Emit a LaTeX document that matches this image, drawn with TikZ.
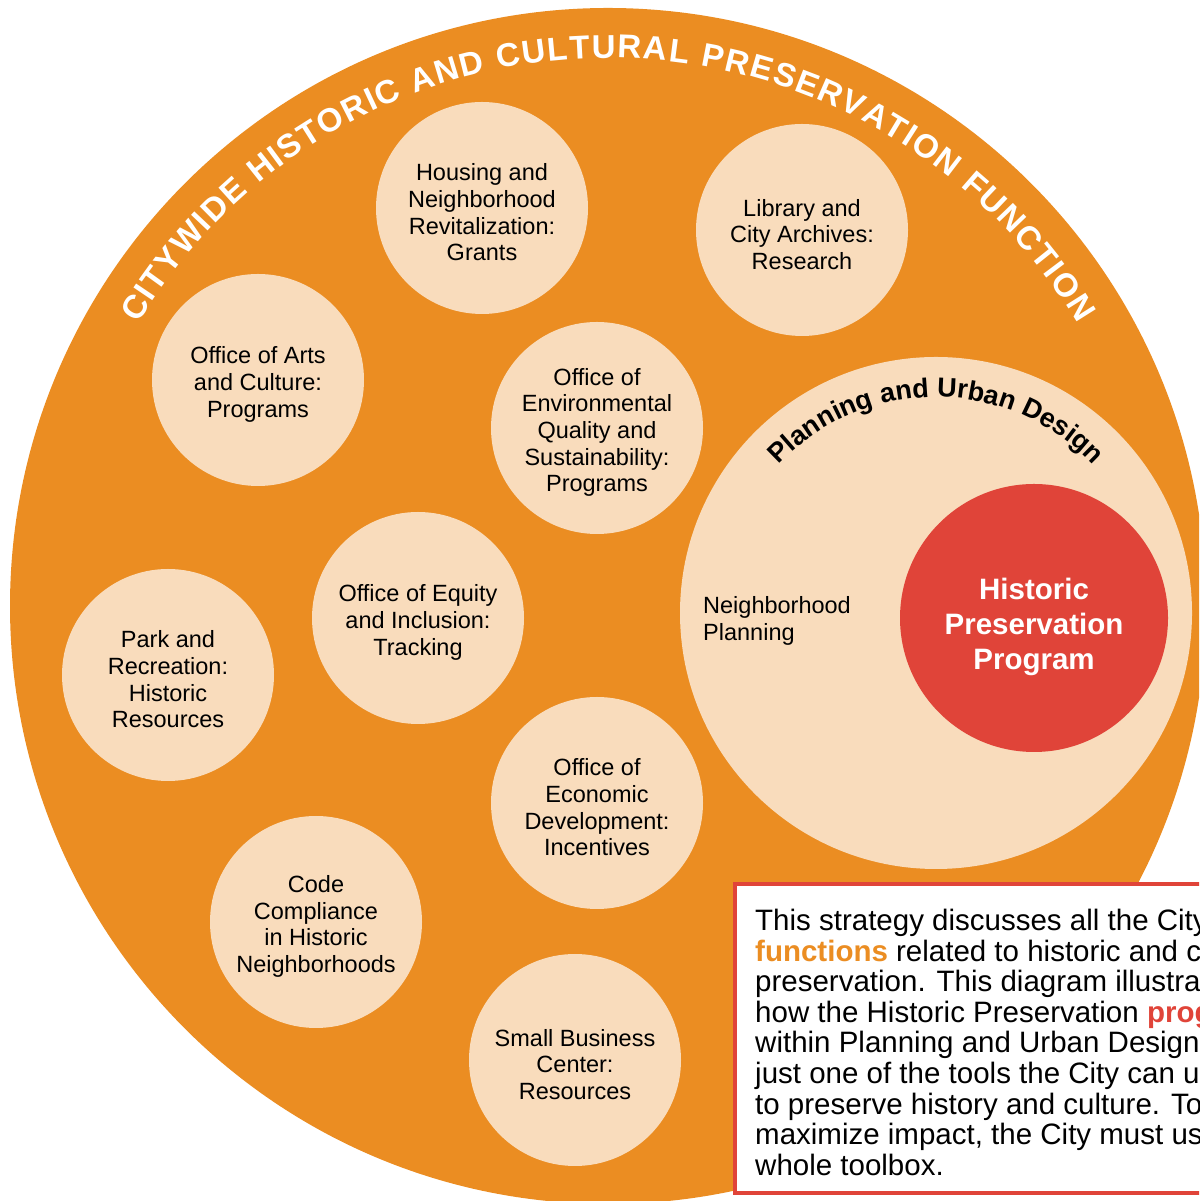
\documentclass[tikz,border=0pt]{standalone}
\usepackage{fontspec}
\setmainfont{Liberation Sans}
\usepackage{tikz}
\usetikzlibrary{decorations.text}
\definecolor{fnorange}{RGB}{235,141,34}
\definecolor{fnpeach}{RGB}{249,220,188}
\definecolor{fnred}{RGB}{224,68,57}
\tikzset{unit/.style={circle, fill=fnpeach, minimum size=212pt, inner sep=0pt,
  label={[align=center, font=\fontsize{23.5}{26.7}\selectfont, yshift=-4.5pt]center:{#1}}}}
\tikzset{arctext/.style={decorate, decoration={text along path, #1}}}

\begin{document}
\begin{tikzpicture}[x=1pt, y=1pt]
\useasboundingbox (0,0) rectangle (1199,1201);
\clip (0,0) rectangle (1199,1201);

\node[circle, fill=fnorange, minimum size=1196pt, inner sep=0pt] (fn) at (608,595) {};
\path[arctext={text align=fit to path, text color=white,
  text={|\fontsize{33}{33}\selectfont\bfseries|CITYWIDE HISTORIC AND CULTURAL PRESERVATION FUNCTION}}]
  ([shift={(149:548)}]fn.center) arc[start angle=149, end angle=31, radius=548];

\node[unit={Housing and\\Neighborhood\\Revitalization:\\Grants}] (housing) at (482,993) {};
\node[unit={Library and\\City Archives:\\Research}] (library) at (802,971) {};
\node[unit={Office of Arts\\and Culture:\\Programs}] (arts) at (258,821) {};
\node[unit={Office of\\Environmental\\Quality and\\Sustainability:\\Programs}] (environ) at (597,773) {};
\node[unit={Office of Equity\\and Inclusion:\\Tracking}] (equity) at (418,583) {};
\node[unit={Park and\\Recreation:\\Historic\\Resources}] (park) at (168,526) {};
\node[unit={Office of\\Economic\\Development:\\Incentives}] (econ) at (597,398) {};
\node[unit={Code\\Compliance\\in Historic\\Neighborhoods}] (code) at (316,279) {};
\node[unit={Small Business\\Center:\\Resources}] (business) at (575,141) {};

% planning and urban design
\node[circle, fill=fnpeach, minimum size=512pt, inner sep=0pt] (pud) at (936,588) {};
\path[arctext={text align=center,
  text={|\fontsize{27}{27}\selectfont\bfseries|Planning and Urban Design}}]
  ([shift={(137:216)}]pud.center) arc[start angle=137, end angle=43, radius=216];
\node[anchor=west, align=left, inner sep=0pt, font=\fontsize{23.5}{27}\selectfont] (nbhd) at (703,580) {Neighborhood\\Planning};
\node[circle, fill=fnred, minimum size=268pt, inner sep=0pt] (hpp) at (1034,583) {};
\node[text=white, align=center, inner sep=0pt, font=\bfseries\fontsize{29.5}{35}\selectfont]
  (hpptext) at ([yshift=-9pt]hpp.center) {Historic\\Preservation\\Program};

% note box
\draw[fnred, line width=4pt, fill=white] (735,8) rectangle (1290,317);
\node[anchor=north west, align=left, inner sep=0pt, font=\fontsize{29.5}{30.6}\selectfont] (note) at (755,292)
  {This strategy discusses all the City\\
   \textcolor{fnorange}{\bfseries functions} related to historic and cultural\\
   preservation. This diagram illustrates\\
   how the Historic Preservation \textcolor{fnred}{\bfseries program}\\
   within Planning and Urban Design\\
   just one of the tools the City can use\\
   to preserve history and culture. To\\
   maximize impact, the City must use\\
   whole toolbox.};
\end{tikzpicture}
\end{document}
